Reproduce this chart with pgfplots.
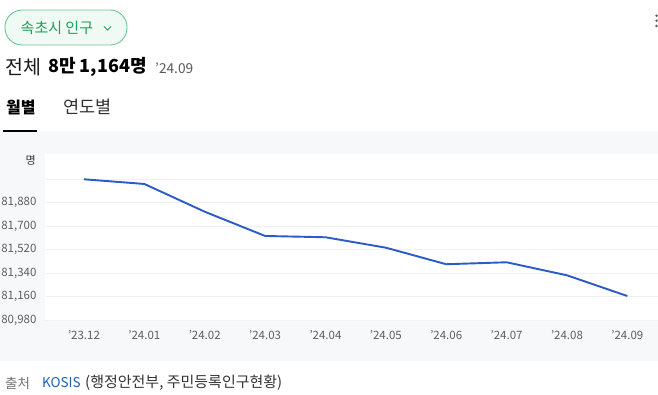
\documentclass[border=0pt]{standalone}
\usepackage{pgfplots}
\pgfplotsset{compat=1.18}
\usepackage{fontspec}
\setmainfont{Noto Sans CJK KR}
\definecolor{pillgreen}{HTML}{1E9E58}
\definecolor{pillfill}{HTML}{F0FAF4}
\definecolor{pillborder}{HTML}{6CC494}
\definecolor{bggray}{HTML}{F7F8FA}
\definecolor{linecol}{HTML}{2A5BC7}
\definecolor{gridcol}{HTML}{F0F1F3}
\definecolor{ticktext}{HTML}{5E5E5E}
\definecolor{srcblue}{HTML}{1D5FB5}
\begin{document}
\begin{tikzpicture}[x=1pt,y=1pt]
\useasboundingbox (0,0) rectangle (658,-395);
% background band
\fill[bggray] (0,-131) rectangle (658,-361);
% pill button
\draw[pillborder, fill=pillfill, line width=0.9pt, rounded corners=17pt] (5,-10) rectangle (127,-45);
\node[anchor=west, inner sep=0pt, text=pillgreen] at (20.5,-27.5) {\fontsize{15}{17}\selectfont 속초시 인구};
\draw[pillgreen, line width=1pt] (104,-26.5) -- (107.5,-30) -- (111,-26.5);
% menu dots
\foreach \yy in {15.7,20.7,26} \fill[black!65] (656.5,-\yy) circle (1.3);
% headline
\node[anchor=west, inner sep=0pt, text=black!90] at (5.5,-67) {\fontsize{19.5}{21}\selectfont 전체};
\node[anchor=west, inner sep=0pt, text=black] at (48,-67) {\fontsize{18}{20}\selectfont\bfseries 8만 1,164명};
\node[anchor=west, inner sep=0pt, text=black!65] at (155,-68) {\fontsize{13.7}{15}\selectfont ’24.09};
% tabs
\node[anchor=west, inner sep=0pt, text=black] at (6,-107) {\fontsize{16}{18}\selectfont\bfseries 월별};
\node[anchor=west, inner sep=0pt, text=black!80] at (63,-107) {\fontsize{17.5}{19}\selectfont 연도별};
\draw[black, line width=2pt] (3,-131) -- (37,-131);
% unit
\node[anchor=east, inner sep=0pt, text=black!80] at (36,-160) {\fontsize{11}{13}\selectfont 명};
% source
\node[anchor=west, inner sep=0pt, text=black!55] at (5,-383) {\fontsize{13.5}{15}\selectfont 출처};
\node[anchor=west, inner sep=0pt, text=srcblue] at (42,-383) {\fontsize{13.5}{15}\selectfont KOSIS};
\node[anchor=west, inner sep=0pt, text=black!80] at (85,-383) {\fontsize{15}{17}\selectfont (행정안전부, 주민등록인구현황)};
\begin{axis}[
  at={(45pt,-320pt)}, anchor=south west,
  width=613pt, height=166pt, scale only axis,
  axis background/.style={fill=white},
  axis line style={draw=none},
  xmin=-0.646, xmax=9.508,
  ymin=80980, ymax=82254,
  scaled y ticks=false,
  xtick={0,...,9},
  xticklabels={’23.12,’24.01,’24.02,’24.03,’24.04,’24.05,’24.06,’24.07,’24.08,’24.09},
  ytick={80980,81160,81340,81520,81700,81880,82060},
  yticklabels={{80,980},{81,160},{81,340},{81,520},{81,700},{81,880},{}},
  major tick length=0pt,
  ymajorgrids, grid style={gridcol, line width=0.8pt},
  tick label style={font=\fontsize{11.5}{13}\selectfont, text=ticktext},
  yticklabel style={anchor=east, xshift=-5pt},
  xticklabel style={anchor=center, yshift=-15pt},
  /pgf/number format/assume math mode=true,
  clip=false,
]
\addplot[linecol, line width=1.9pt, line join=round, mark=none] coordinates {
(0,82060) (1,82024) (2,81811) (3,81625) (4,81615) (5,81535) (6,81408) (7,81423) (8,81323) (9,81164)
};
\end{axis}
\end{tikzpicture}
\end{document}
